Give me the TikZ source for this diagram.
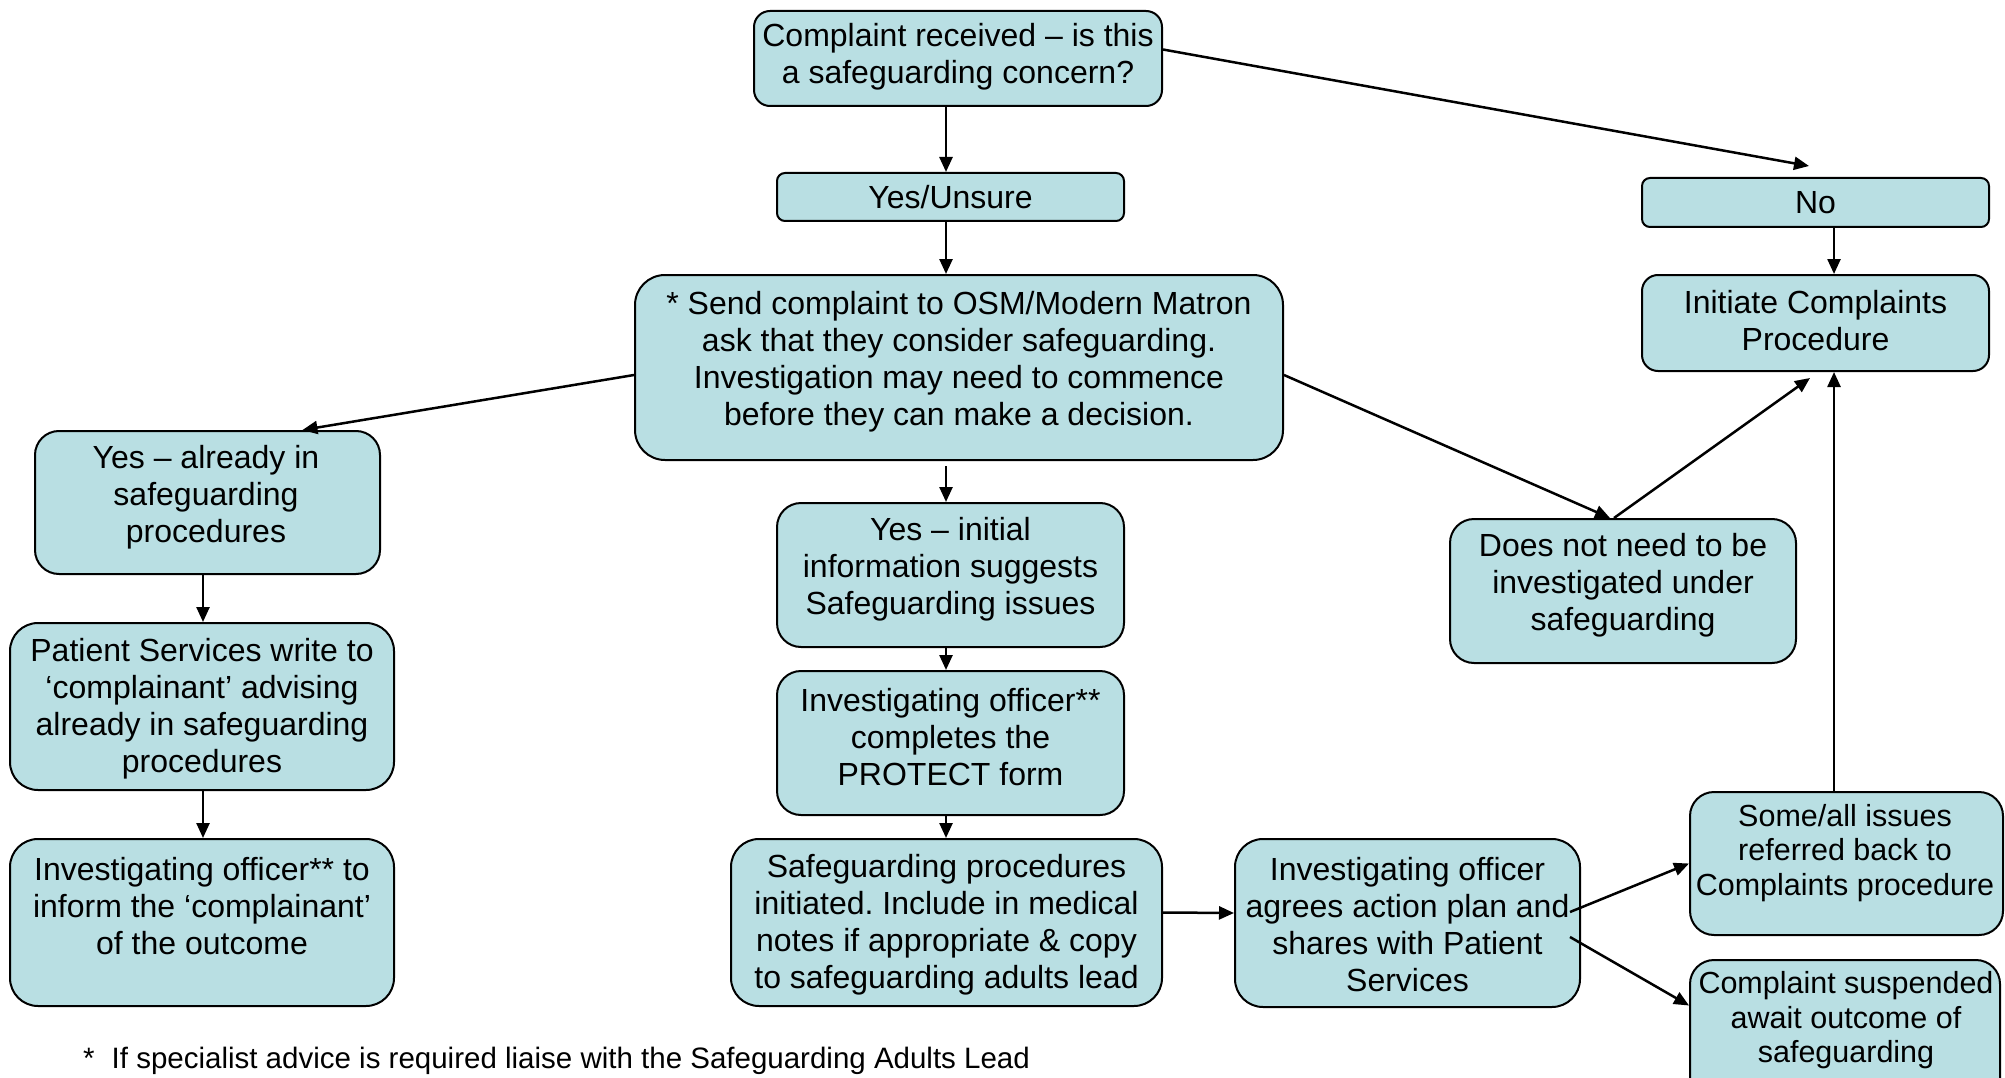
\documentclass[tikz,border=0pt]{standalone}
\usepackage{fontspec}
\setmainfont{Liberation Sans}
\usetikzlibrary{arrows.meta,calc}
\definecolor{boxfill}{RGB}{185,223,227}
\begin{document}
\frenchspacing
\begin{tikzpicture}[x=1pt,y=-1pt,
  box/.style={draw=black, line width=2pt, fill=boxfill, inner sep=0pt},
  txt/.style={align=center, inner sep=0pt, font=\fontsize{32}{37}\selectfont},
  stxt/.style={align=center, inner sep=0pt, font=\fontsize{30.5}{34.5}\selectfont},
  arr/.style={line width=2.5pt, -{Triangle[length=15pt,width=13pt]}},
]
\useasboundingbox (0,0) rectangle (2005,1078);

% boxes
\node[box, minimum width=408pt, minimum height=95pt, rounded corners=16pt] (top) at (958,58.5) {};
\node[box, minimum width=347pt, minimum height=48pt, rounded corners=8pt] (yesu) at (950.5,197) {};
\node[box, minimum width=648pt, minimum height=185pt, rounded corners=30pt] (send) at (959,367.5) {};
\node[box, minimum width=347pt, minimum height=49pt, rounded corners=8pt] (no) at (1815.5,202.5) {};
\node[box, minimum width=347pt, minimum height=96pt, rounded corners=16pt] (init) at (1815.5,323) {};
\node[box, minimum width=346pt, minimum height=144pt, rounded corners=24pt] (dnn) at (1623,591) {};
\node[box, minimum width=345pt, minimum height=143pt, rounded corners=24pt] (yalr) at (207.5,502.5) {};
\node[box, minimum width=384pt, minimum height=167pt, rounded corners=28pt] (ps) at (202,706.5) {};
\node[box, minimum width=384pt, minimum height=167pt, rounded corners=28pt] (io) at (202,922.5) {};
\node[box, minimum width=347pt, minimum height=144pt, rounded corners=24pt] (yi) at (950.5,575) {};
\node[box, minimum width=347pt, minimum height=144pt, rounded corners=24pt] (ioc) at (950.5,743) {};
\node[box, minimum width=431pt, minimum height=167pt, rounded corners=28pt] (spi) at (946.5,922.5) {};
\node[box, minimum width=345pt, minimum height=168pt, rounded corners=28pt] (ioa) at (1407.5,923) {};
\node[box, minimum width=313pt, minimum height=143pt, rounded corners=24pt] (some) at (1846.5,863.5) {};
\node[box, minimum width=310pt, minimum height=143pt, rounded corners=24pt] (susp) at (1845,1031.5) {};

% texts
\node[txt] (ttop) at (958,57) {Complaint received – is this\\a safeguarding concern?};
\node[txt] (tyesu) at (950.5,197.5) {Yes/Unsure};
\node[txt] (tsend) at (959,361.5) {* Send complaint to OSM/Modern Matron\\ask that they consider safeguarding.\\Investigation may need to commence\\before they can make a decision.};
\node[txt] (tno) at (1815.5,202.5) {No};
\node[txt] (tinit) at (1815.5,320.5) {Initiate Complaints\\Procedure};
\node[txt] (tdnn) at (1623,585.5) {Does not need to be\\investigated under\\safeguarding};
\node[txt] (tyalr) at (206,497.5) {Yes – already in\\safeguarding\\procedures};
\node[txt] (tps) at (202,709) {Patient Services write to\\‘complainant’ advising\\already in safeguarding\\procedures};
\node[txt] (tio) at (202,906.5) {Investigating officer** to\\inform the ‘complainant’\\of the outcome};
\node[txt] (tyi) at (950.5,569.5) {Yes – initial\\information suggests\\Safeguarding issues};
\node[txt] (tioc) at (950.5,737.5) {Investigating officer**\\completes the\\PROTECT form};
\node[txt] (tspi) at (946.5,925) {Safeguarding procedures\\initiated. Include in medical\\notes if appropriate \& copy\\to safeguarding adults lead};
\node[txt] (tioa) at (1407.5,925) {Investigating officer\\agrees action plan and\\shares with Patient\\Services};
\node[stxt] (tsome) at (1845,853) {Some/all issues\\referred back to\\Complaints procedure};
\node[stxt] (tsusp) at (1846,1020.5) {Complaint suspended\\await outcome of\\safeguarding};
\node[anchor=west, inner sep=0pt, font=\fontsize{29.5}{34}\selectfont] (foot) at (83,1061) {*\hspace{17pt}If specialist advice is required liaise with the Safeguarding Adults Lead};

% helper coordinates for vertical connector lines
\coordinate (mx) at (946,0);
\coordinate (rx) at (1834,0);
\coordinate (lx) at (203,0);
\coordinate (sendlow) at (946,466);

% connectors
\draw[arr] (top.south -| mx) -- (yesu.north -| mx);
\draw[arr] (yesu.south -| mx) -- (send.north -| mx);
\draw[arr] (sendlow) -- (yi.north -| mx);
\draw[arr] (yi.south -| mx) -- (ioc.north -| mx);
\draw[arr] (ioc.south -| mx) -- (spi.north -| mx);
\draw[arr] ([yshift=9pt]top.east) -- ([xshift=-6.5pt,yshift=11pt]no.north);
\draw[arr] (no.south -| rx) -- (init.north -| rx);
\draw[arr] (some.north -| rx) -- (init.south -| rx);
\draw[arr] ([yshift=-7.5pt]send.east) -- ([xshift=-13pt]dnn.north);
\draw[arr] ([xshift=-9pt]dnn.north) -- ([xshift=-5.5pt,yshift=-6pt]init.south);
\draw[arr] ([yshift=-7.5pt]send.west) -- ([xshift=95pt]yalr.north);
\draw[arr] (yalr.south -| lx) -- (ps.north -| lx);
\draw[arr] (ps.south -| lx) -- (io.north -| lx);
\draw[arr] ([yshift=10pt]spi.east) -- ([yshift=10pt]ioa.west);
\draw[arr] ([xshift=-11pt,yshift=11pt]ioa.east) -- (some.west);
\draw[arr] ([xshift=-11pt,yshift=-14pt]ioa.east) -- ([yshift=26pt]susp.west);
\end{tikzpicture}
\end{document}
